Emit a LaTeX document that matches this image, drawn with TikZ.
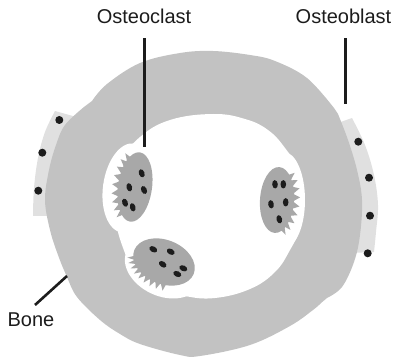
\documentclass[tikz,border=0pt]{standalone}
\usepackage{fontspec}
\setmainfont{Liberation Sans}
\definecolor{bonegray}{gray}{0.76}
\definecolor{cellgray}{gray}{0.66}
\definecolor{blastgray}{gray}{0.88}
\definecolor{inkdark}{gray}{0.11}
\begin{document}
\begin{tikzpicture}[x=1pt,y=-1pt,
  lab/.style={font=\fontsize{20}{24}\selectfont, text=inkdark, inner sep=0pt},
  leader/.style={draw=inkdark, line width=2.6pt},
  nucleus/.style={fill=inkdark},
  dot/.style={fill=inkdark},
  pit/.style={fill=white}]
\useasboundingbox (0,0) rectangle (399,358);

% osteoblast layers lying on the outer bone surface
\fill[blastgray] plot[smooth, tension=0.6] coordinates {(55,111) (45,132) (38,158) (34,188) (33,216)}
  -- (60,216) -- (80,118) -- cycle;
\fill[blastgray] plot[smooth, tension=0.6] coordinates {(352,118) (365,145) (374,175) (378,205) (376,232) (374,252)}
  -- (350,253) -- (335,124) -- cycle;

% bone ring, outer contour
\fill[bonegray]
  plot[smooth, tension=0.6] coordinates {(92,101) (107,84) (140,63) (180,53) (213,51) (250,55) (275,61) (307,78) (334,108)}
  -- plot[smooth, tension=0.6] coordinates {(338,114) (348,140) (357,170) (362,200) (360,235) (354,262) (342,287) (327,298)}
  -- plot[smooth, tension=0.6] coordinates {(321,303) (313,310) (290,326) (250,345) (200,356) (180,355) (140,344) (120,334) (100,320) (77,297) (67,277) (58,255) (50,230) (45,200) (49,170) (56,145) (65,125) (84,107)}
  -- cycle;

% marrow cavity and resorption pits
\fill[white] plot[smooth cycle, tension=0.7] coordinates {(213,114) (245,119) (268,130) (285,148) (298,170) (304,200) (300,228) (290,250) (275,272) (250,289) (215,298) (185,296) (160,288) (135,270) (122,245) (115,215) (115,185) (122,160) (140,137) (170,120)};
\fill[pit] (128,188) circle[x radius=25pt, y radius=45pt, rotate=-8];
\fill[pit] (163,268) circle[x radius=40pt, y radius=28pt, rotate=-25];
\fill[pit] (284,200) circle[x radius=21pt, y radius=48pt];

% osteoclast on the left, ruffled border facing the bone
\begin{scope}[shift={(135,187)}, rotate=-8]
  \fill[cellgray] (0,0) ellipse (17pt and 35pt);
  \foreach \i in {0,...,8} {
    \pgfmathsetmacro\aa{122+\i*13}
    \pgfmathsetmacro\ab{\aa+6.5}
    \pgfmathsetmacro\ac{\aa+13}
    \fill[cellgray] (\aa:16pt and 34pt) -- (\ab:23pt and 41pt) -- (\ac:16pt and 34pt) -- cycle;
  }
\end{scope}

% osteoclast at the bottom
\begin{scope}[shift={(164,262)}, rotate=-22]
  \fill[cellgray] (0,0) ellipse (32pt and 22pt);
  \foreach \i in {0,...,8} {
    \pgfmathsetmacro\aa{195+\i*10.5}
    \pgfmathsetmacro\ab{\aa+5.25}
    \pgfmathsetmacro\ac{\aa+10.5}
    \fill[cellgray] (\aa:31pt and 21pt) -- (\ab:38pt and 28pt) -- (\ac:31pt and 21pt) -- cycle;
  }
\end{scope}

% osteoclast on the right
\begin{scope}[shift={(277,200)}, rotate=-4]
  \fill[cellgray] (0,0) ellipse (17pt and 33pt);
  \foreach \i in {0,...,8} {
    \pgfmathsetmacro\aa{292+\i*13.5}
    \pgfmathsetmacro\ab{\aa+6.75}
    \pgfmathsetmacro\ac{\aa+13.5}
    \fill[cellgray] (\aa:16pt and 32pt) -- (\ab:23pt and 39pt) -- (\ac:16pt and 32pt) -- cycle;
  }
\end{scope}

% nuclei
\foreach \p/\r in {(141.7,173.3)/20, (129.3,187.3)/15, (144,190)/25, (125,202.7)/20, (132.7,207.3)/15,
                   (153.3,249.3)/60, (170.7,251.7)/60, (162.7,264.3)/55, (183.3,268.3)/65, (177.3,274)/65,
                   (275,184.3)/5, (283.3,184.3)/0, (271,204.3)/10, (285.7,202.3)/0, (279.3,219.3)/15}
  \fill[nucleus] \p circle[x radius=2.8pt, y radius=4.2pt, rotate=\r];

% osteoblast nuclei
\foreach \p in {(59.3,120), (42.3,152.7), (38.3,190.7), (358.3,141.7), (369,177.7), (370,215.7), (367.7,253.3)}
  \fill[dot] \p circle[radius=4pt];

% labels and leaders
\node[lab, anchor=base] (oclab) at (144,23.3) {Osteoclast};
\node[lab, anchor=base] (oblab) at (343.5,23.3) {Osteoblast};
\node[lab, anchor=base] (bonelab) at (31,326) {Bone};
\coordinate (ocend) at (144.3,147);
\coordinate (obend) at (345.7,104);
\coordinate (boneend) at (67,276);
\draw[leader] ([xshift=0.3pt, yshift=-15pt]oclab.base) -- (ocend);
\draw[leader] ([xshift=2.2pt, yshift=-15pt]oblab.base) -- (obend);
\draw[leader] ([shift={(4pt,21pt)}]bonelab.base) -- (boneend);
\end{tikzpicture}
\end{document}
